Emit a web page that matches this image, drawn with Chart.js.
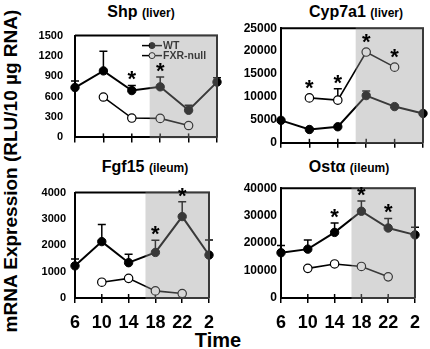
<!DOCTYPE html>
<html>
<head>
<meta charset="utf-8">
<script src="https://cdn.jsdelivr.net/npm/chart.js@4.4.1/dist/chart.umd.min.js"></script>
<style>
body { margin: 0; background: #fff; }
#wrap { position: relative; width: 430px; height: 349px; overflow: hidden; font-family: Arial, "Liberation Sans", sans-serif; font-weight: bold; color: #000; }
canvas { position: absolute; }
.title { position: absolute; width: 200px; text-align: center; font-size: 16px; line-height: 20px; white-space: nowrap; }
.title span { font-size: 12px; }
#ytitle { position: absolute; left: -159.5px; top: 160px; width: 340px; height: 22px; line-height: 22px; font-size: 19px; text-align: center; transform: rotate(-90deg); white-space: nowrap; }
#xtitle { position: absolute; left: 178px; top: 330px; width: 80px; text-align: center; font-size: 20px; line-height: 20px; }
</style>
</head>
<body>
<div id="wrap">
  <div class="title" style="left:41px;top:2px">Shp <span>(liver)</span></div>
  <div class="title" style="left:256px;top:2px">Cyp7a1 <span>(liver)</span></div>
  <div class="title" style="left:45px;top:157px">Fgf15 <span>(ileum)</span></div>
  <div class="title" style="left:249px;top:157px">Ostα <span>(ileum)</span></div>
  <div id="ytitle">mRNA Expression (RLU/10 µg RNA)</div>
  <div id="xtitle">Time</div>
  <canvas id="shpChart" width="204" height="139" style="left:19px;top:17px"></canvas>
  <canvas id="cypChart" width="204" height="137" style="left:225px;top:17px"></canvas>
  <canvas id="fgfChart" width="204" height="157" style="left:19px;top:177px"></canvas>
  <canvas id="ostChart" width="204" height="157" style="left:225px;top:177px"></canvas>
</div>
<script>
// Heures (Time)
const hours = ['6', '10', '14', '18', '22', '2'];
const darkStart = 2.63; // début de la zone grise (index sur l'axe x)

// Shp (liver)
const shpWT = [735, 980, 690, 745, 400, 815];
const shpWTsd = [95, 290, 75, 145, 75, 65];
const shpKO = [null, 595, 285, 280, 175, null];
const shpKOsd = [0, 0, 0, 0, 0, 0];
const shpStars = [2, 3];

// Cyp7a1 (liver)
const cypWT = [4900, 2900, 3500, 10300, 7900, 6400];
const cypWTsd = [0, 0, 0, 1000, 0, 0];
const cypKO = [null, 9800, 9300, 19800, 16500, null];
const cypKOsd = [0, 0, 2500, 0, 0, 0];
const cypStars = [1, 2, 3, 4];

// Fgf15 (ileum)
const fgfWT = [1220, 2140, 1340, 1730, 3090, 1630];
const fgfWTsd = [260, 650, 320, 460, 560, 570];
const fgfKO = [null, 600, 745, 270, 170, null];
const fgfKOsd = [0, 0, 0, 0, 0, 0];
const fgfStars = [3, 4];

// Ost alpha (ileum)
const ostWT = [16500, 17800, 23900, 31600, 25500, 23000];
const ostWTsd = [2600, 3300, 3400, 3700, 3500, 2800];
const ostKO = [null, 10800, 12400, 11500, 7700, null];
const ostKOsd = [0, 0, 0, 0, 0, 0];
const ostStars = [2, 3, 4];

// Plugin : cadre, barres d'erreur, légende, zone grise, étoiles
function panelPlugin(p) {
    return {
        id: 'panelExtras',
        beforeDatasetsDraw(chart) {
            const { ctx, chartArea: a, scales: { x, y } } = chart;
            ctx.save();
            ctx.strokeStyle = '#000';
            ctx.lineWidth = 2;
            ctx.beginPath();
            ctx.moveTo(a.left, a.top);
            ctx.lineTo(a.right, a.top);
            ctx.lineTo(a.right, a.bottom);
            ctx.stroke();

            // petites graduations vers l'intérieur
            ctx.lineWidth = 1.5;
            hours.forEach((h, i) => {
                const px = x.getPixelForValue(i);
                ctx.beginPath();
                ctx.moveTo(px, a.bottom);
                ctx.lineTo(px, a.bottom - 4);
                ctx.stroke();
            });

            // barres d'erreur (vers le haut seulement)
            [[p.wt, p.wtSd], [p.ko, p.koSd]].forEach(([vals, sds]) => {
                vals.forEach((v, i) => {
                    if (v == null || !sds[i]) return;
                    const px = x.getPixelForValue(i);
                    const y0 = y.getPixelForValue(v);
                    const y1 = y.getPixelForValue(v + sds[i]);
                    ctx.beginPath();
                    ctx.moveTo(px, y0);
                    ctx.lineTo(px, y1);
                    ctx.moveTo(px - 4, y1);
                    ctx.lineTo(px + 4, y1);
                    ctx.stroke();
                });
            });

            if (p.legend) {
                const items = chart.data.datasets;
                items.forEach((ds, k) => {
                    const ly = a.top + 10 + k * 10;
                    const lx = a.left + 67;
                    ctx.lineWidth = 1.5;
                    ctx.strokeStyle = '#000';
                    ctx.beginPath();
                    ctx.moveTo(lx, ly);
                    ctx.lineTo(lx + 20, ly);
                    ctx.stroke();
                    ctx.beginPath();
                    ctx.arc(lx + 10, ly, 3, 0, Math.PI * 2);
                    ctx.fillStyle = ds.pointBackgroundColor;
                    ctx.fill();
                    ctx.lineWidth = 1;
                    ctx.stroke();
                    ctx.fillStyle = '#000';
                    ctx.font = 'bold 10.5px Arial';
                    ctx.textBaseline = 'middle';
                    ctx.textAlign = 'left';
                    ctx.fillText(ds.label, lx + 21, ly + 0.5);
                });
            }
            ctx.restore();
        },
        afterDatasetsDraw(chart) {
            const { ctx, chartArea: a, scales: { x, y } } = chart;
            ctx.save();
            const sx = x.getPixelForValue(darkStart);
            ctx.fillStyle = 'rgba(150, 150, 150, 0.38)';
            ctx.fillRect(sx, a.top - 1, a.right + 1 - sx, a.bottom - a.top + 2);

            ctx.fillStyle = '#000';
            ctx.font = 'bold 22px Arial';
            ctx.textAlign = 'center';
            ctx.textBaseline = 'alphabetic';
            p.stars.forEach(i => {
                const px = x.getPixelForValue(i);
                let top = Infinity;
                [[p.wt, p.wtSd], [p.ko, p.koSd]].forEach(([vals, sds]) => {
                    const v = vals[i];
                    if (v == null) return;
                    top = Math.min(top, y.getPixelForValue(v) - 4, y.getPixelForValue(v + (sds[i] || 0)));
                });
                const cy = top - 11;
                ctx.fillText('*', px, cy + 12);
            });
            ctx.restore();
        }
    };
}

function makePanel(id, p) {
    const ctx = document.getElementById(id).getContext('2d');
    return new Chart(ctx, {
        type: 'line',
        data: {
            labels: hours,
            datasets: [{
                label: 'WT',
                data: p.wt,
                borderColor: '#000',
                borderWidth: 2,
                pointRadius: 4.2,
                pointBackgroundColor: '#000',
                pointBorderColor: '#000',
                pointBorderWidth: 1,
                tension: 0
            }, {
                label: 'FXR-null',
                data: p.ko,
                borderColor: '#000',
                borderWidth: 1.6,
                pointRadius: 4.2,
                pointBackgroundColor: '#fff',
                pointBorderColor: '#000',
                pointBorderWidth: 1.2,
                tension: 0
            }]
        },
        options: {
            responsive: false,
            animation: false,
            events: [],
            clip: false,
            layout: { padding: { top: 8, right: 6, left: 0, bottom: 0 } },
            plugins: { legend: { display: false }, tooltip: { enabled: false } },
            scales: {
                x: {
                    offset: false,
                    grid: { drawOnChartArea: false, color: '#000', lineWidth: 1.5, tickLength: 5 },
                    border: { color: '#000', width: 2 },
                    ticks: {
                        display: p.showX,
                        color: '#000',
                        font: { family: 'Arial', weight: 'bold', size: 18 },
                        padding: 9,
                        maxRotation: 0,
                        autoSkip: false
                    },
                    afterFit: (s) => { s.height = p.showX ? 36 : 10; }
                },
                y: {
                    min: 0,
                    max: p.max,
                    grid: { drawOnChartArea: false, drawTicks: false },
                    border: { color: '#000', width: 2 },
                    ticks: {
                        stepSize: p.step,
                        color: '#000',
                        font: { family: 'Arial', weight: 'bold', size: p.yFont },
                        padding: p.yPad,
                        callback: (v) => String(v)
                    },
                    afterFit: (s) => { s.width = 56; }
                }
            }
        },
        plugins: [panelPlugin(p)]
    });
}

const shpChart = makePanel('shpChart', { wt: shpWT, wtSd: shpWTsd, ko: shpKO, koSd: shpKOsd, stars: shpStars, max: 1500, step: 300, yFont: 11, yPad: 12, showX: false, legend: true });
const cypChart = makePanel('cypChart', { wt: cypWT, wtSd: cypWTsd, ko: cypKO, koSd: cypKOsd, stars: cypStars, max: 25000, step: 5000, yFont: 12, yPad: 4, showX: false, legend: false });
const fgfChart = makePanel('fgfChart', { wt: fgfWT, wtSd: fgfWTsd, ko: fgfKO, koSd: fgfKOsd, stars: fgfStars, max: 4000, step: 1000, yFont: 11, yPad: 9, showX: true, legend: false });
const ostChart = makePanel('ostChart', { wt: ostWT, wtSd: ostWTsd, ko: ostKO, koSd: ostKOsd, stars: ostStars, max: 40000, step: 10000, yFont: 12, yPad: 4, showX: true, legend: false });
</script>
</body>
</html>
